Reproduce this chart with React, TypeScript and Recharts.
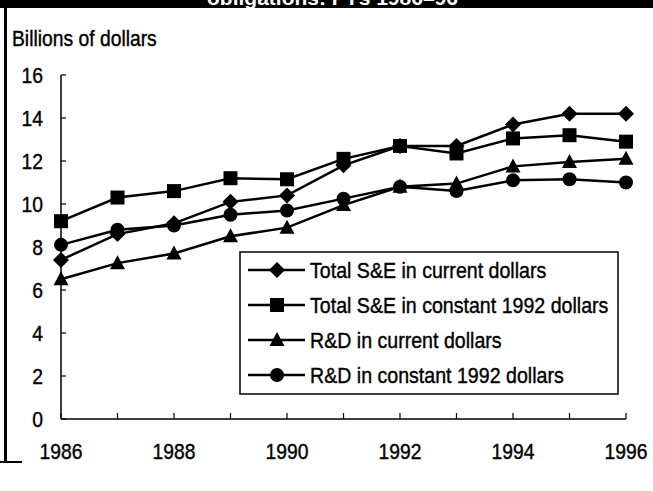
import React from "react";
import { LineChart, Line, XAxis, YAxis } from "recharts";

const years = ["1986", "1987", "1988", "1989", "1990", "1991", "1992", "1993", "1994", "1995", "1996"];
const totalSECurrent = [7.4, 8.6, 9.1, 10.1, 10.4, 11.8, 12.7, 12.7, 13.7, 14.2, 14.2];
const totalSEConstant = [9.2, 10.3, 10.6, 11.2, 11.15, 12.1, 12.7, 12.35, 13.05, 13.2, 12.9];
const rdCurrent = [6.5, 7.25, 7.7, 8.5, 8.9, 9.95, 10.8, 10.95, 11.75, 11.95, 12.1];
const rdConstant = [8.1, 8.8, 9.0, 9.5, 9.7, 10.25, 10.8, 10.6, 11.1, 11.15, 11.0];
const yTicks = [0, 2, 4, 6, 8, 10, 12, 14, 16];

const seriesNames = [
  "Total S&E in current dollars",
  "Total S&E in constant 1992 dollars",
  "R&D in current dollars",
  "R&D in constant 1992 dollars",
];

const data = years.map((year, i) => ({
  year,
  seCur: totalSECurrent[i],
  seCon: totalSEConstant[i],
  rdCur: rdCurrent[i],
  rdCon: rdConstant[i],
}));

const FONT = "'Liberation Sans', Arial, Helvetica, sans-serif";
const STRETCH = 1.12; // the scanned type is a bit taller than Arial

type Shape = "diamond" | "square" | "triangle" | "circle";

function marker(shape: Shape, cx: number, cy: number, key?: string | number) {
  if (shape === "diamond") {
    return <path key={key} d={`M${cx},${cy - 8}L${cx + 8},${cy}L${cx},${cy + 8}L${cx - 8},${cy}Z`} fill="#000" />;
  }
  if (shape === "square") {
    return <rect key={key} x={cx - 7} y={cy - 7} width={14} height={14} fill="#000" />;
  }
  if (shape === "triangle") {
    return <path key={key} d={`M${cx},${cy - 8}L${cx + 7.5},${cy + 6}L${cx - 7.5},${cy + 6}Z`} fill="#000" />;
  }
  return <circle key={key} cx={cx} cy={cy} r={7} fill="#000" />;
}

const series: { key: string; name: string; shape: Shape }[] = [
  { key: "seCur", name: seriesNames[0], shape: "diamond" },
  { key: "seCon", name: seriesNames[1], shape: "square" },
  { key: "rdCur", name: seriesNames[2], shape: "triangle" },
  { key: "rdCon", name: seriesNames[3], shape: "circle" },
];

// text drawn from its baseline, stretched a little vertically and slightly heavier
function TallText({ x, y, anchor, size, children }: any) {
  return (
    <g transform={`translate(${x},${y}) scale(1,${STRETCH})`}>
      <text
        x={0}
        y={0}
        textAnchor={anchor}
        fontSize={size}
        fontFamily={FONT}
        fill="#000"
        stroke="#000"
        strokeWidth={0.35}
      >
        {children}
      </text>
    </g>
  );
}

const XTick = (props: any) => {
  const label = props.payload.value as string;
  if (Number(label) % 2 !== 0) return <g />;
  return (
    <TallText x={props.x} y={props.y + 16} anchor="middle" size={19.3}>
      {label}
    </TallText>
  );
};

const YTick = (props: any) => (
  <TallText x={props.x} y={props.y + 7.5} anchor="end" size={19.3}>
    {props.payload.value}
  </TallText>
);

export default function App() {
  return (
    <div style={{ position: "absolute", left: 0, top: 0, width: 653, height: 491, background: "#fff", overflow: "hidden" }}>
      {/* title band, mostly cut off at the top of the page */}
      <div style={{ position: "absolute", left: 0, top: 0, width: 653, height: 8, background: "#000", overflow: "hidden" }}>
        <div
          style={{
            position: "absolute",
            left: 207,
            top: -14,
            lineHeight: "normal",
            color: "#fff",
            fontFamily: FONT,
            fontWeight: "bold",
            fontSize: 21,
            whiteSpace: "nowrap",
          }}
        >
          obligations: FYs 1986–96
        </div>
      </div>
      <div style={{ position: "absolute", left: 4, top: 8, width: 3, height: 455, background: "#000" }} />
      <div style={{ position: "absolute", left: 0, top: 461, width: 22, height: 2, background: "#000" }} />

      <div style={{ position: "absolute", left: 0, top: 0 }}>
        <LineChart width={653} height={491} data={data} margin={{ top: 75, right: 27, bottom: 0, left: 0 }}>
          <XAxis
            dataKey="year"
            height={72}
            interval={0}
            tickSize={-6}
            tickMargin={30}
            axisLine={{ stroke: "#000", strokeWidth: 1.5 }}
            tickLine={{ stroke: "#000", strokeWidth: 1.2 }}
            tick={XTick}
          />
          <YAxis
            width={61}
            domain={[0, 16]}
            ticks={yTicks}
            interval={0}
            tickSize={-5}
            tickMargin={23}
            axisLine={{ stroke: "#000", strokeWidth: 1.5 }}
            tickLine={{ stroke: "#000", strokeWidth: 1.2 }}
            tick={YTick}
          />
          {series.map((s) => (
            <Line
              key={s.key}
              dataKey={s.key}
              name={s.name}
              stroke="#000"
              strokeWidth={2.5}
              isAnimationActive={false}
              dot={(p: any) => marker(s.shape, p.cx, p.cy, `${s.key}-${p.index}`)}
              activeDot={false}
            />
          ))}
        </LineChart>
      </div>

      {/* axis title and legend */}
      <svg width={653} height={491} style={{ position: "absolute", left: 0, top: 0, pointerEvents: "none" }}>
        <TallText x={12} y={46} anchor="start" size={19.3}>
          Billions of dollars
        </TallText>
        <rect x={240} y={252} width={378} height={142} fill="#fff" stroke="#000" strokeWidth={1.5} />
        {series.map((s, i) => {
          const cy = 270 + i * 35;
          return (
            <g key={s.key}>
              <line x1={248} y1={cy} x2={305} y2={cy} stroke="#000" strokeWidth={2.5} />
              {marker(s.shape, 277, cy)}
              <TallText x={310} y={cy + 7.5} anchor="start" size={19.6}>
                {s.name}
              </TallText>
            </g>
          );
        })}
      </svg>
    </div>
  );
}
